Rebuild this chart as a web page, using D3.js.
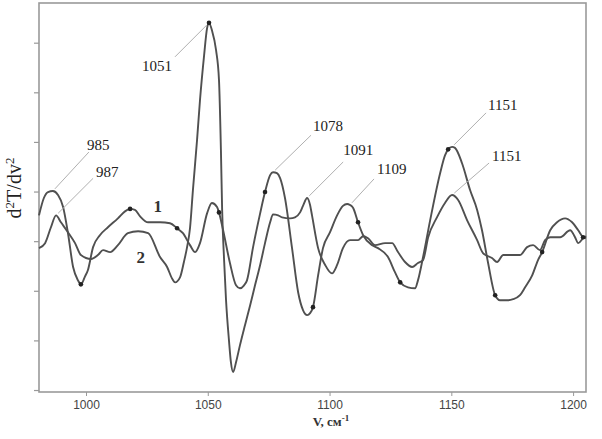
<!DOCTYPE html>
<html>
<head>
<meta charset="utf-8">
<script src="https://cdn.jsdelivr.net/npm/d3@7"></script>
<style>
  body { margin: 0; background: #fff; }
  svg { display: block; }
</style>
</head>
<body>
<div id="chart"></div>
<script>
// curve 1 (wavenumber, d2T/dv2)
var wn1 = [980.7, 982.7, 984.4, 986.4, 988.5, 990.6, 992.6, 994.7, 996.7, 997.9,
  999.6, 1000.8, 1002.9, 1005.7, 1009, 1013.1, 1016, 1018.1, 1020.1, 1022.2,
  1025.5, 1030.4, 1034.5, 1037.4, 1039.8, 1042.7, 1044.8, 1046.8, 1049.7, 1051.7,
  1053.8, 1054.6, 1056.3, 1059.1, 1061.6, 1063.2, 1064.9, 1066.1, 1068.6, 1071.5,
  1073.5, 1075.6, 1076.8, 1078.4, 1079.7, 1081.7, 1084.6, 1087.1, 1089.1, 1090.8,
  1092, 1093.2, 1095.3, 1097.3, 1100.2, 1103.1, 1105.5, 1107.2, 1108.4, 1109.7,
  1111.7, 1113.8, 1117.5, 1119.9, 1124, 1126.9, 1129, 1132.2, 1135.1, 1136.3,
  1138.4, 1141.3, 1145.4, 1147.4, 1148.7, 1150.3, 1151.5, 1154.4, 1157.7, 1160.6,
  1162.6, 1165.1, 1168, 1170, 1172.9, 1175.4, 1178.2, 1180.3, 1183.2, 1185.6,
  1187.3, 1190.6, 1193.4, 1196.7, 1199.6, 1202.1, 1204.1, 1205.3];
var val1 = [0.52, 0.87, 0.99, 1.01, 0.93, 0.69, 0.16, -0.52, -0.79, -0.87,
  -0.71, -0.58, -0.12, 0.12, 0.28, 0.46, 0.60, 0.65, 0.63, 0.50,
  0.38, 0.38, 0.36, 0.26, 0.16, -0.08, -0.22, -0.04, 0.56, 0.77,
  0.69, 0.58, 0.22, -0.44, -0.89, -0.95, -0.89, -0.79, -0.12, 0.56,
  0.99, 1.33, 1.39, 1.37, 1.27, 0.87, -0.14, -1.03, -1.39, -1.49,
  -1.45, -1.33, -0.69, -0.14, 0.18, 0.52, 0.71, 0.75, 0.73, 0.67,
  0.38, 0.12, -0.08, -0.14, -0.32, -0.63, -0.83, -0.93, -0.95, -0.79,
  -0.32, 0.42, 1.37, 1.73, 1.85, 1.90, 1.88, 1.57, 1.03, 0.63,
  0.22, -0.44, -1.09, -1.19, -1.19, -1.17, -1.09, -0.93, -0.69, -0.38,
  -0.22, 0.22, 0.38, 0.46, 0.38, 0.22, 0.08, 0.06];

// curve 2
var wn2 = [980.7, 983.2, 985.6, 987.7, 989.7, 992.6, 995.5, 997.9, 1002.1, 1004.9,
  1007, 1009.9, 1013.1, 1017.2, 1021.4, 1025.5, 1030.4, 1033.3, 1035.3, 1036.6,
  1038.6, 1040.2, 1041.5, 1042.7, 1043.9, 1045.6, 1046.8, 1048.5, 1049.7, 1050.5,
  1051.7, 1053.4, 1054.6, 1055.4, 1055.9, 1056.7, 1057.5, 1058.7, 1059.5, 1060.4,
  1061.6, 1063.2, 1065.3, 1067.4, 1069.4, 1071.5, 1073.5, 1075.6, 1076.8, 1078.9,
  1080.5, 1083.8, 1085.8, 1087.9, 1089.1, 1090.8, 1092, 1092.8, 1095.3, 1098.2,
  1101, 1103.1, 1105.5, 1108.4, 1111.7, 1113.8, 1115.8, 1118.7, 1122.8, 1125.7,
  1128.1, 1131, 1133.9, 1136.3, 1138.4, 1140.5, 1144.1, 1147.4, 1150.3, 1152.8,
  1156.5, 1160.6, 1163, 1166.7, 1168.8, 1171.3, 1174.1, 1178.2, 1181.1, 1183.6,
  1186.4, 1188.5, 1190.6, 1194.7, 1198.8, 1200.8, 1202.1, 1204.1, 1205.3];
var val2 = [-0.14, -0.04, 0.28, 0.52, 0.38, 0.18, -0.04, -0.28, -0.36, -0.28,
  -0.18, -0.22, -0.08, 0.16, 0.20, 0.16, -0.32, -0.52, -0.75, -0.83,
  -0.73, -0.42, -0.12, 0.26, 1.03, 2.04, 2.84, 3.75, 4.29, 4.40,
  4.25, 3.85, 3.25, 1.83, 0.63, -0.38, -1.19, -2.00, -2.44, -2.64,
  -2.44, -2.10, -1.69, -1.29, -0.89, -0.48, -0.04, 0.38, 0.54, 0.52,
  0.48, 0.46, 0.48, 0.58, 0.71, 0.87, 0.73, 0.52, -0.14, -0.48,
  -0.65, -0.48, -0.14, 0.02, 0.02, 0.10, 0.06, -0.08, -0.04, -0.04,
  -0.22, -0.42, -0.52, -0.44, -0.38, 0.08, 0.48, 0.77, 0.93, 0.83,
  0.42, 0.02, -0.24, -0.34, -0.42, -0.28, -0.28, -0.28, -0.12, -0.08,
  -0.18, 0.02, 0.08, 0.08, 0.22, 0.08, -0.04, 0.06, 0.10];

// marked points (wavenumbers)
var dots1 = [997.9, 1018.1, 1037.4, 1054.6, 1073.5, 1093.2, 1111.7, 1129, 1148.7, 1168, 1187.3, 1204.1];
var dots2 = [1050.5];

// peak annotations
var peakLabels = ["985", "987", "1051", "1078", "1091", "1109", "1151", "1151"];
var peakSeries = [1, 2, 2, 1, 2, 1, 1, 2];
var peakAt = [986.4, 987.7, 1050.5, 1076.8, 1090.8, 1108.4, 1150.3, 1150.3];

var xTicks = [1000, 1050, 1100, 1150, 1200];
var yTicks = [-3, -2, -1, 0, 1, 2, 3, 4];

var width = 602, height = 439;
var margin = {top: 3, right: 16, bottom: 47, left: 39};

var svg = d3.select("#chart").append("svg")
  .attr("width", width)
  .attr("height", height);

var x = d3.scaleLinear().domain([980.7, 1205.3]).range([margin.left, width - margin.right]);
var y = d3.scaleLinear().domain([-3.04, 4.8]).range([height - margin.bottom, margin.top]);

var s1 = wn1.map(function(d, i) { return [d, val1[i]]; });
var s2 = wn2.map(function(d, i) { return [d, val2[i]]; });
var series = {1: s1, 2: s2};

function valueAt(s, w) {
  var p = s.find(function(d) { return Math.abs(d[0] - w) < 0.05; });
  return p ? p[1] : 0;
}

// frame
svg.append("rect")
  .attr("x", margin.left).attr("y", margin.top)
  .attr("width", width - margin.left - margin.right)
  .attr("height", height - margin.top - margin.bottom)
  .attr("fill", "none").attr("stroke", "#9a9a9a").attr("stroke-width", 1.6);

// axes
var xAxis = svg.append("g")
  .attr("transform", "translate(0," + (height - margin.bottom) + ")")
  .call(d3.axisBottom(x).tickValues(xTicks).tickSize(4).tickPadding(4).tickFormat(d3.format("d")));
xAxis.select(".domain").remove();
xAxis.selectAll("line").attr("stroke", "#999");
xAxis.selectAll("text")
  .attr("font-family", "Liberation Sans, Arial, sans-serif")
  .attr("font-size", 12).attr("fill", "#444");

var yAxis = svg.append("g")
  .attr("transform", "translate(" + margin.left + ",0)")
  .call(d3.axisLeft(y).tickValues(yTicks).tickSize(5).tickFormat(""));
yAxis.select(".domain").remove();
yAxis.selectAll("line").attr("stroke", "#999").attr("stroke-width", 1.2);

// curves
var line = d3.line()
  .x(function(d) { return x(d[0]); })
  .y(function(d) { return y(d[1]); })
  .curve(d3.curveMonotoneX);

[s1, s2].forEach(function(s) {
  svg.append("path")
    .datum(s)
    .attr("fill", "none")
    .attr("stroke", "#505050")
    .attr("stroke-width", 1.9)
    .attr("stroke-linejoin", "round")
    .attr("d", line);
});

// dots
var dotData = dots1.map(function(w) { return [w, valueAt(s1, w)]; })
  .concat(dots2.map(function(w) { return [w, valueAt(s2, w)]; }));
svg.selectAll(".dot").data(dotData).enter().append("circle")
  .attr("class", "dot")
  .attr("cx", function(d) { return x(d[0]); })
  .attr("cy", function(d) { return y(d[1]); })
  .attr("r", 2.3)
  .attr("fill", "#222");

// leaders: end offset from the peak, then text offset from leader end
var leadEnd = [[36, -39], [37, -37], [-34, 34], [38, -37], [36, -36], [24, -26], [34, -34], [37, -32]];
var textOff = [[-2, -2], [3, -1], [-3, 14], [2, -4], [0, -7], [3, -5], [2, -3], [3, -2]];
var textAnchor = ["start", "start", "end", "start", "start", "start", "start", "start"];

peakLabels.forEach(function(lab, i) {
  var px = x(peakAt[i]), py = y(valueAt(series[peakSeries[i]], peakAt[i]));
  var ex = px + leadEnd[i][0], ey = py + leadEnd[i][1];
  var len = Math.sqrt(leadEnd[i][0] * leadEnd[i][0] + leadEnd[i][1] * leadEnd[i][1]);
  var sx = px + leadEnd[i][0] / len * 3, sy = py + leadEnd[i][1] / len * 3;
  svg.append("line")
    .attr("x1", sx).attr("y1", sy).attr("x2", ex).attr("y2", ey)
    .attr("stroke", "#b0b0b0").attr("stroke-width", 1);
  svg.append("text")
    .attr("x", ex + textOff[i][0]).attr("y", ey + textOff[i][1])
    .attr("text-anchor", textAnchor[i])
    .attr("font-family", "Liberation Serif, Times New Roman, serif")
    .attr("font-size", 15).attr("fill", "#222")
    .text(lab);
});

// curve numbers
svg.append("text").attr("x", x(1029.5)).attr("y", y(0.58))
  .attr("text-anchor", "middle")
  .attr("font-family", "Liberation Serif, serif").attr("font-size", 17)
  .attr("font-weight", "bold").attr("fill", "#333").text("1");
svg.append("text").attr("x", x(1022.5)).attr("y", y(-0.45))
  .attr("text-anchor", "middle")
  .attr("font-family", "Liberation Serif, serif").attr("font-size", 17)
  .attr("font-weight", "bold").attr("fill", "#333").text("2");

// axis titles
var xt = svg.append("text")
  .attr("x", 331).attr("y", 426)
  .attr("text-anchor", "middle")
  .attr("font-family", "Liberation Serif, serif").attr("font-size", 13)
  .attr("font-weight", "bold").attr("fill", "#333");
xt.append("tspan").text("V, cм");
xt.append("tspan").attr("dy", -5).attr("font-size", 9).text("-1");

var yt = svg.append("text")
  .attr("transform", "translate(21,188) rotate(-90)")
  .attr("text-anchor", "middle")
  .attr("font-family", "Liberation Serif, serif").attr("font-size", 20)
  .attr("fill", "#222");
yt.append("tspan").text("d");
yt.append("tspan").attr("dy", -7).attr("font-size", 13).text("2");
yt.append("tspan").attr("dy", 7).text("T/dv");
yt.append("tspan").attr("dy", -7).attr("font-size", 13).text("2");
</script>
</body>
</html>
